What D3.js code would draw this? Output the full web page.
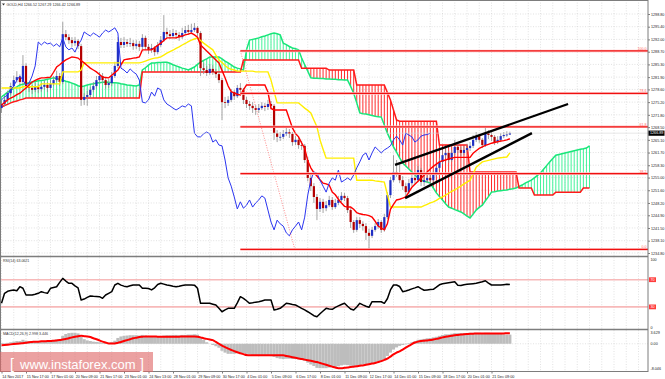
<!DOCTYPE html>
<html>
<head>
<meta charset="utf-8">
<title>GOLD,H4</title>
<script src="https://cdn.jsdelivr.net/npm/d3@7"></script>
<style>
  body { margin: 0; background: #fff; }
  svg  { display: block; font-family: "Liberation Sans", Arial, sans-serif; }
</style>
</head>
<body>
<svg id="chart" width="665" height="379"></svg>
<script>
// ════════════════════════════════════════════════════════════════════════════
// DATA  (GOLD H4, one entry per bar)
// ════════════════════════════════════════════════════════════════════════════
const opens = [
  1273.6,1274.7,1275.8,1277.6,1279.5,1281.1,1281.9,1280.6,1284.9,1279.5,
  1279.0,1278.5,1279.3,1278.7,1279.3,1279.8,1279.0,1280.1,1281.1,1282.2,
  1280.6,1293.4,1292.6,1291.8,1291.0,1291.6,1290.2,1275.8,1276.6,1277.1,
  1278.5,1279.5,1281.1,1282.2,1281.1,1279.8,1280.3,1282.2,1284.9,1291.3,
  1290.5,1291.3,1290.8,1291.0,1290.2,1290.8,1290.0,1292.4,1290.0,1289.2,
  1289.7,1288.6,1290.5,1291.8,1294.0,1293.4,1292.9,1293.7,1293.2,1292.6,
  1293.7,1294.5,1294.0,1294.5,1295.1,1293.7,1284.3,1283.8,1283.0,1284.1,
  1283.3,1282.7,1281.1,1275.2,1275.0,1275.8,1277.9,1276.8,1279.0,1278.5,
  1275.8,1274.7,1274.2,1273.6,1273.1,1273.6,1274.2,1273.9,1274.7,1274.2,
  1266.9,1265.9,1265.9,1266.7,1267.2,1266.7,1264.5,1265.1,1263.7,1263.5,
  1259.7,1254.9,1252.7,1249.8,1246.6,1248.5,1246.8,1247.6,1249.0,1247.1,
  1248.2,1249.0,1250.1,1249.5,1246.3,1243.1,1241.0,1243.6,1242.6,1242.0,
  1240.2,1239.4,1241.0,1242.0,1243.1,1241.0,1244.4,1250.3,1254.3,1256.5,
  1256.2,1254.3,1252.7,1251.1,1253.5,1254.9,1254.3,1257.0,1253.8,1254.3,
  1254.9,1254.3,1255.7,1257.6,1259.2,1261.0,1261.6,1259.7,1261.6,1263.2,
  1262.4,1261.6,1262.4,1262.9,1263.5,1265.1,1266.1,1265.1,1263.7,1266.9,
  1266.4,1265.9,1264.5,1265.1,1266.1,1266.4,1266.52
];
const highs = [
  1275.6,1276.6,1278.3,1280.4,1282.3,1283.5,1282.6,1287.8,1285.6,1280.6,
  1279.8,1280.3,1280.0,1280.4,1281.0,1280.6,1281.1,1282.2,1283.6,1283.0,
  1296.7,1294.5,1293.4,1292.6,1292.6,1292.1,1290.8,1277.6,1278.2,1279.3,
  1280.6,1282.2,1283.3,1283.0,1281.9,1281.4,1283.3,1286.0,1292.6,1292.4,
  1292.6,1292.1,1292.4,1291.8,1291.8,1291.6,1293.4,1293.0,1290.8,1290.8,
  1290.2,1291.3,1292.9,1298.5,1295.1,1294.5,1294.8,1294.5,1294.0,1295.1,
  1295.6,1295.9,1296.2,1296.4,1295.6,1294.2,1285.6,1284.9,1285.4,1285.1,
  1284.1,1283.3,1281.7,1276.6,1276.8,1278.7,1278.5,1279.8,1280.3,1279.0,
  1276.6,1275.5,1275.2,1274.4,1274.7,1275.2,1275.0,1275.8,1275.5,1274.7,
  1267.7,1267.2,1267.7,1268.3,1268.0,1267.2,1266.1,1265.9,1264.8,1264.0,
  1260.5,1255.7,1253.5,1250.6,1249.5,1249.3,1248.7,1250.1,1249.8,1249.3,
  1250.1,1251.1,1250.9,1250.1,1246.8,1243.6,1244.4,1244.4,1243.3,1242.8,
  1241.3,1241.8,1242.8,1243.9,1243.6,1245.3,1251.1,1255.2,1261.0,1259.7,
  1258.9,1255.4,1253.5,1254.6,1256.0,1255.7,1258.1,1257.6,1255.4,1256.0,
  1255.7,1256.8,1258.6,1260.2,1262.4,1262.7,1262.1,1262.4,1265.1,1264.0,
  1263.2,1263.5,1264.0,1264.5,1266.4,1267.2,1266.7,1265.6,1268.3,1267.7,
  1267.2,1266.4,1266.1,1266.9,1267.2,1267.4,1267.29
];
const lows = [
  1272.3,1274.0,1275.2,1277.0,1278.8,1280.4,1279.8,1280.0,1278.8,1277.9,
  1277.4,1277.9,1277.6,1278.0,1278.5,1277.9,1278.4,1279.5,1280.6,1279.5,
  1280.0,1291.8,1290.8,1290.0,1290.2,1289.4,1274.2,1274.4,1274.2,1276.3,
  1277.9,1278.8,1280.3,1280.3,1278.8,1279.0,1279.5,1281.7,1284.3,1289.7,
  1289.7,1290.0,1290.0,1289.2,1289.4,1288.9,1289.4,1289.2,1288.1,1288.4,
  1287.6,1288.0,1290.0,1291.3,1292.6,1292.1,1292.4,1292.1,1291.6,1292.1,
  1293.2,1293.2,1293.4,1294.0,1292.9,1282.2,1282.7,1282.2,1282.5,1282.5,
  1281.7,1280.3,1270.4,1273.6,1274.2,1275.2,1275.8,1276.3,1277.6,1274.7,
  1273.6,1273.1,1272.3,1271.8,1272.3,1273.1,1272.8,1273.1,1273.3,1265.1,
  1264.5,1264.8,1265.3,1266.1,1265.6,1263.5,1263.7,1262.7,1262.4,1258.9,
  1254.0,1251.4,1248.2,1243.6,1245.8,1245.5,1246.0,1247.1,1246.3,1246.6,
  1247.6,1248.5,1248.7,1245.5,1241.5,1240.2,1240.5,1241.5,1240.8,1238.3,
  1235.9,1238.8,1240.5,1241.3,1240.2,1240.5,1243.9,1249.5,1253.8,1255.2,
  1253.5,1251.7,1249.5,1250.6,1252.7,1253.3,1253.8,1252.7,1252.7,1253.5,
  1253.3,1253.8,1255.2,1257.0,1258.6,1260.2,1258.9,1259.2,1261.0,1261.6,
  1260.8,1261.0,1261.8,1262.1,1262.9,1264.5,1264.3,1262.9,1263.2,1265.3,
  1264.8,1263.7,1264.0,1264.5,1265.6,1265.9,1266.42
];
const closes = [
  1274.7,1275.8,1277.6,1279.5,1281.1,1281.9,1280.6,1284.9,1279.5,1279.0,
  1278.5,1279.3,1278.7,1279.3,1279.8,1279.0,1280.1,1281.1,1282.2,1280.6,
  1293.4,1292.6,1291.8,1291.0,1291.6,1290.2,1275.8,1276.6,1277.1,1278.5,
  1279.5,1281.1,1282.2,1281.1,1279.8,1280.3,1282.2,1284.9,1291.3,1290.5,
  1291.3,1290.8,1291.0,1290.2,1290.8,1290.0,1292.4,1290.0,1289.2,1289.7,
  1288.6,1290.5,1291.8,1294.0,1293.4,1292.9,1293.7,1293.2,1292.6,1293.7,
  1294.5,1294.0,1294.5,1295.1,1293.7,1284.3,1283.8,1283.0,1284.1,1283.3,
  1282.7,1281.1,1275.2,1275.0,1275.8,1277.9,1276.8,1279.0,1278.5,1275.8,
  1274.7,1274.2,1273.6,1273.1,1273.6,1274.2,1273.9,1274.7,1274.2,1266.9,
  1265.9,1265.9,1266.7,1267.2,1266.7,1264.5,1265.1,1263.7,1263.5,1259.7,
  1254.9,1252.7,1249.8,1246.6,1248.5,1246.8,1247.6,1249.0,1247.1,1248.2,
  1249.0,1250.1,1249.5,1246.3,1243.1,1241.0,1243.6,1242.6,1242.0,1240.2,
  1239.4,1241.0,1242.0,1243.1,1241.0,1244.4,1250.3,1254.3,1256.5,1256.2,
  1254.3,1252.7,1251.1,1253.5,1254.9,1254.3,1257.0,1253.8,1254.3,1254.9,
  1254.3,1255.7,1257.6,1259.2,1261.0,1261.6,1259.7,1261.6,1263.2,1262.4,
  1261.6,1262.4,1262.9,1263.5,1265.1,1266.1,1265.1,1263.7,1266.9,1266.4,
  1265.9,1264.5,1265.1,1266.1,1266.4,1266.52,1266.89
];

// Ichimoku: tenkan (red), kijun (yellow)
const tenkan = [
  1274.4,1275.1,1275.8,1276.3,1276.7,1277.2,1277.6,1278.3,1279.0,1279.8,
  1280.6,1281.0,1281.4,1281.7,1281.7,1281.8,1281.9,1283.2,1284.6,1285.2,
  1285.9,1286.5,1286.9,1287.3,1287.2,1287.0,1286.3,1285.7,1285.0,1284.3,
  1283.8,1283.3,1282.6,1281.9,1281.8,1281.7,1282.4,1283.1,1283.8,1285.2,
  1286.5,1286.7,1286.8,1287.0,1287.1,1287.3,1289.2,1289.2,1289.2,1289.2,
  1289.8,1290.4,1291.0,1291.7,1292.4,1292.4,1292.4,1292.4,1292.7,1292.9,
  1293.2,1293.4,1293.7,1293.2,1292.6,1290.5,1289.7,1288.9,1288.1,1287.3,
  1286.5,1285.7,1283.7,1281.7,1279.5,1278.0,1277.7,1277.3,1277.1,1278.5,
  1279.8,1279.8,1279.8,1279.8,1279.8,1279.8,1279.8,1277.9,1273.5,1273.1,
  1273.1,1273.1,1273.1,1273.1,1270.7,1268.3,1266.8,1265.9,1264.3,1262.8,
  1259.5,1257.6,1256.3,1255.4,1254.4,1253.5,1253.3,1253.0,1251.1,1250.4,
  1249.2,1248.2,1247.3,1247.1,1247.1,1246.5,1245.6,1245.3,1245.1,1245.0,
  1244.8,1244.4,1243.3,1242.0,1241.5,1241.0,1242.6,1246.5,1247.8,1249.0,
  1249.2,1249.5,1249.8,1251.1,1252.4,1253.2,1254.0,1254.8,1255.6,1256.5,
  1257.3,1258.0,1258.6,1259.2,1259.5,1259.7,1260.0,1260.2,1260.4,1260.4,
  1260.4,1260.4,1260.4,1260.4,1261.5,1262.2,1262.8,1263.2,1263.6,1263.9,
  1264.2,1264.4,1264.6,1264.8,1264.9,1265.1,1265.4
];
const kijun = [
  1279.0,1279.0,1279.0,1279.0,1279.0,1279.0,1279.0,1279.3,1279.3,1279.3,
  1279.3,1279.3,1279.3,1280.1,1280.1,1280.1,1280.1,1280.1,1280.1,1280.1,
  1283.3,1283.3,1283.3,1283.3,1283.3,1283.3,1283.8,1285.7,1285.7,1285.7,
  1285.7,1285.7,1285.7,1285.7,1285.7,1285.7,1285.7,1285.7,1285.7,1285.7,
  1285.7,1285.7,1285.7,1285.7,1285.7,1285.7,1285.9,1286.2,1286.5,1286.8,
  1287.0,1287.1,1287.3,1287.8,1288.3,1288.7,1289.1,1289.6,1290.0,1290.5,
  1290.9,1291.4,1291.8,1292.1,1292.4,1291.7,1291.0,1290.4,1289.8,1289.2,
  1287.8,1286.5,1285.8,1285.0,1284.3,1284.0,1283.8,1283.5,1283.5,1283.5,
  1283.5,1283.5,1283.5,1283.3,1283.3,1283.3,1283.3,1283.3,1281.1,1278.0,
  1275.0,1275.0,1275.0,1275.0,1275.0,1275.0,1275.0,1275.0,1274.3,1273.6,
  1273.0,1272.3,1270.4,1268.6,1265.1,1262.6,1260.2,1260.2,1260.2,1260.2,
  1260.2,1260.2,1260.2,1260.2,1260.2,1260.2,1254.3,1254.3,1254.3,1254.3,
  1254.3,1254.3,1254.1,1254.0,1253.9,1253.8,1250.5,1247.1,1247.1,1247.1,
  1247.1,1247.1,1247.1,1247.1,1247.1,1247.1,1247.1,1247.1,1247.5,1247.8,
  1248.2,1248.5,1248.9,1249.4,1249.8,1250.3,1250.8,1251.3,1251.7,1252.2,
  1252.7,1253.3,1253.8,1254.3,1256.0,1257.8,1258.5,1259.2,1259.4,1259.6,
  1259.8,1260.0,1260.2,1260.3,1260.4,1260.5,1261.6
];
// Senkou spans, already shifted 26 bars ahead (193 bars)
const spanA = [
  1276.6,1277.2,1277.9,1278.4,1278.9,1279.3,1279.8,1280.0,1280.2,1280.4,
  1280.6,1280.7,1280.9,1281.0,1281.1,1281.3,1281.5,1281.7,1281.5,1281.3,
  1281.1,1280.8,1280.6,1280.3,1280.0,1279.6,1279.3,1279.5,1279.8,1280.0,
  1280.1,1280.3,1280.4,1280.5,1280.6,1280.5,1280.4,1280.4,1280.3,1280.1,
  1280.0,1279.8,1279.7,1279.6,1279.5,1279.8,1283.8,1284.4,1285.1,1285.7,
  1285.7,1285.8,1285.8,1285.9,1285.9,1285.6,1285.2,1284.9,1284.6,1284.3,
  1284.1,1283.8,1284.2,1284.6,1285.3,1285.9,1286.4,1286.8,1287.3,1287.3,
  1287.3,1287.3,1286.8,1286.2,1285.7,1285.2,1284.6,1284.3,1284.1,1283.8,
  1289.2,1291.8,1292.0,1292.2,1292.4,1292.7,1292.9,1293.2,1293.5,1293.7,
  1293.5,1293.2,1291.0,1290.6,1290.1,1289.7,1289.5,1289.2,1287.0,1285.2,
  1283.5,1281.7,1281.6,1281.6,1281.5,1281.5,1281.4,1281.4,1281.3,1281.3,
  1281.2,1281.2,1281.1,1281.1,1279.4,1277.6,1275.0,1272.3,1272.1,1272.0,
  1271.8,1271.6,1271.4,1271.3,1271.2,1269.1,1266.9,1265.1,1263.2,1261.8,
  1260.3,1258.9,1258.1,1257.3,1256.5,1255.7,1254.9,1254.3,1254.0,1253.8,
  1253.5,1252.2,1250.9,1249.9,1249.0,1248.0,1247.1,1246.8,1246.4,1246.1,
  1245.8,1245.3,1244.7,1244.2,1245.2,1246.3,1247.0,1247.6,1248.8,1249.9,
  1251.1,1251.2,1251.4,1251.5,1251.6,1251.7,1251.9,1252.0,1252.2,1252.6,
  1253.0,1253.5,1253.9,1254.3,1254.9,1255.6,1256.2,1257.2,1258.2,1259.2,
  1260.1,1261.0,1261.2,1261.4,1261.6,1261.8,1262.0,1262.2,1262.4,1262.6,
  1262.7,1262.9,1263.5
];
const spanB = [
  1273.9,1274.3,1274.6,1275.0,1275.3,1275.5,1275.8,1276.0,1276.3,1276.3,
  1276.3,1276.3,1276.3,1276.3,1276.3,1276.3,1276.3,1276.3,1276.3,1276.3,
  1276.3,1276.3,1276.3,1276.3,1276.3,1276.3,1276.3,1276.3,1276.3,1276.3,
  1276.3,1276.3,1276.3,1276.3,1276.3,1276.3,1276.3,1276.3,1276.3,1276.3,
  1276.3,1276.3,1276.3,1276.3,1276.3,1276.3,1283.3,1283.3,1283.3,1283.3,
  1283.3,1283.3,1283.3,1283.3,1283.3,1283.3,1283.3,1283.3,1283.3,1283.3,
  1283.3,1283.3,1283.3,1283.3,1283.3,1283.3,1283.3,1283.3,1283.3,1283.3,
  1283.3,1283.3,1283.3,1283.3,1283.3,1283.3,1283.3,1283.3,1283.3,1286.5,
  1286.5,1286.5,1286.5,1286.5,1286.5,1286.5,1286.5,1286.5,1286.5,1286.5,
  1286.5,1286.5,1286.5,1286.5,1286.5,1286.5,1286.5,1286.5,1284.3,1284.3,
  1284.3,1284.3,1284.3,1284.3,1284.3,1284.3,1284.3,1283.8,1283.8,1283.8,
  1283.8,1283.8,1283.8,1283.8,1283.8,1283.8,1279.8,1279.8,1279.8,1279.8,
  1279.8,1279.8,1279.8,1279.8,1279.8,1279.8,1277.8,1275.8,1273.1,1270.4,
  1270.1,1270.1,1270.1,1270.1,1270.1,1270.1,1270.1,1270.1,1270.1,1270.1,
  1270.1,1270.1,1270.1,1263.7,1263.7,1263.7,1263.7,1263.7,1263.7,1263.7,
  1263.7,1263.7,1263.7,1256.5,1256.5,1256.5,1256.5,1256.5,1256.5,1256.5,
  1256.5,1256.5,1256.5,1256.5,1256.5,1256.5,1256.5,1256.5,1256.5,1252.2,
  1252.2,1252.2,1252.2,1252.2,1250.3,1250.3,1250.3,1250.3,1250.3,1250.3,
  1250.3,1251.1,1251.1,1251.1,1251.1,1251.1,1251.1,1251.1,1251.1,1251.1,
  1252.2,1252.2,1252.2
];
const chikouShift = 26;

const rsi = [
  35.3,50,53,54,54.9,53.8,59.7,57.4,47.5,47.5,
  47.5,48.5,50,52.4,51,50,57.4,58.5,59.7,66,
  72,68,64.7,64.7,61,58,40.1,41.5,44,46,
  45.5,45.3,45,42.6,47.5,50,52.4,62.2,64.7,62,
  60.5,59.7,61,62.2,62.2,62.2,57.4,57.4,57,55,
  58,63,64.7,63.5,62.2,61.5,60.5,59.7,60.5,61.5,
  62.2,62.2,62.2,62,57.4,35.3,35.3,35.3,35.3,34,
  32.8,28,22.9,25.5,27.9,27.9,27.9,36,45,42.6,
  39,35.3,36,37,37.6,38.8,40.1,40.1,40.1,25.4,
  26.5,27.9,31.5,35.3,34.5,33.5,32.8,30.5,27.9,25.5,
  22.9,20,17,15.6,20,24,27.9,27,26.5,29.4,
  31.5,33.5,35.3,31,27,25.4,30,35.3,33,31,
  29.4,37.6,37.6,37.6,37.6,35.3,42,55,62.2,62.2,
  60,52.4,53.5,54.9,56.5,58,59.7,57,54.5,55,
  55.5,55.9,59,62.5,64,64.7,65.5,66.3,67.1,62,
  61.5,62.5,63.2,63.7,64.2,64.7,65.8,67,68.5,65,
  62.2,62.2,62.2,62.2,62.7,63.2,63.06
];
const rsiLevels = [70, 30];

const macdMain = [
  0.3,0.2,0.3,0.5,0.7,0.9,0.9,1.3,1.0,0.8,
  0.7,0.7,0.6,0.6,0.7,0.7,0.9,1.1,1.4,1.3,
  2.6,3.2,3.5,3.6,3.6,3.4,2.2,1.5,1.1,0.9,
  0.7,0.6,0.5,0.3,0.2,0.3,0.5,1.0,1.9,2.4,
  2.6,2.7,2.8,2.8,2.8,2.7,2.9,2.7,2.5,2.4,
  2.2,2.3,2.5,2.7,2.8,2.8,2.9,2.9,2.8,2.9,
  2.9,3.0,3.0,3.1,3.0,2.2,1.3,0.5,0.0,-0.4,
  -0.8,-1.3,-2.3,-2.9,-3.3,-3.3,-3.3,-3.1,-3.0,-3.1,
  -3.3,-3.5,-3.7,-3.8,-3.9,-3.9,-3.9,-3.8,-3.7,-4.3,
  -4.7,-4.9,-5.0,-4.9,-4.9,-5.0,-5.0,-5.1,-5.2,-5.6,
  -6.2,-6.8,-7.3,-7.9,-8.0,-8.0,-8.0,-7.8,-7.7,-7.6,
  -7.4,-7.1,-6.9,-7.0,-7.2,-7.4,-7.2,-7.0,-6.8,-6.8,
  -6.8,-6.5,-6.2,-5.8,-5.6,-5.0,-4.0,-2.9,-1.9,-1.2,
  -0.7,-0.4,-0.2,0.2,0.5,0.8,1.3,1.4,1.6,1.8,
  1.9,2.1,2.3,2.6,2.9,3.1,3.1,3.3,3.5,3.5,
  3.5,3.5,3.5,3.6,3.6,3.6,3.6,3.5,3.6,3.6,
  3.5,3.4,3.3,3.2,3.1,3.0,2.998
];
const macdSignal = [
  -0.5,-0.4,-0.3,-0.2,-0.1,0.0,0.1,0.2,0.3,0.5,
  0.6,0.7,0.7,0.8,0.8,0.9,0.9,1.0,1.1,1.2,
  1.4,1.6,1.8,2.1,2.3,2.5,2.6,2.5,2.4,2.2,
  1.8,1.5,1.1,0.7,0.4,0.1,0.1,0.1,0.3,0.6,
  0.9,1.2,1.5,1.8,2.0,2.2,2.3,2.4,2.4,2.4,
  2.4,2.3,2.3,2.3,2.3,2.3,2.3,2.3,2.3,2.4,
  2.4,2.4,2.4,2.4,2.3,2.1,1.8,1.6,1.4,1.2,
  0.6,0.0,-0.6,-1.1,-1.6,-2.0,-2.4,-2.8,-3.1,-3.4,
  -3.7,-3.8,-3.8,-3.8,-3.8,-3.8,-3.8,-3.8,-3.8,-3.8,
  -3.8,-3.8,-3.8,-4.0,-4.2,-4.4,-4.6,-4.8,-5.0,-5.2,
  -5.4,-5.6,-5.8,-6.0,-6.3,-6.6,-6.9,-7.2,-7.5,-7.8,
  -8.0,-8.0,-7.9,-7.8,-7.6,-7.5,-7.4,-7.2,-7.1,-6.9,
  -6.7,-6.5,-6.3,-6.0,-5.7,-5.3,-4.9,-4.2,-3.5,-2.9,
  -2.5,-1.9,-1.3,-0.7,-0.1,0.4,0.7,0.9,1.0,1.1,
  1.2,1.4,1.6,1.8,2.1,2.3,2.5,2.6,2.8,2.9,
  3.0,3.1,3.2,3.3,3.3,3.4,3.4,3.4,3.4,3.4,
  3.4,3.4,3.4,3.4,3.4,3.45,3.446
];

// drawn objects: [bar, price]
const fibAnchors  = [[78, 1288.9], [95.8, 1235.75]];
const fibLevels   = [0, 38.2, 61.8, 78.6, 100];
const upperTrend  = [[128.5, 1258.4], [185, 1274.7]];
const lowerTrend  = [[131.8, 1249.5], [173.2, 1266.9]];

// axes
const priceTicks = [1298.8,1295.4,1292.0,1288.7,1285.3,1281.9,1278.6,1275.2,1271.8,1268.5,
                    1265.1,1261.7,1258.3,1255.0,1251.6,1248.2,1244.9,1241.5,1238.1,1234.8];
const timeLabels = ['14 Nov 2017','15 Nov 17:00','17 Nov 01:00','20 Nov 09:00','21 Nov 17:00',
  '23 Nov 01:00','24 Nov 13:00','28 Nov 01:00','29 Nov 09:00','30 Nov 17:00','4 Dec 01:00',
  '5 Dec 09:00','6 Dec 17:00','8 Dec 01:00','11 Dec 09:00','12 Dec 17:00','14 Dec 01:00',
  '15 Dec 09:00','18 Dec 17:00','20 Dec 01:00','21 Dec 09:00'];
const macdTicks = [3.629, 0, -8.046];

// ════════════════════════════════════════════════════════════════════════════
// LAYOUT / SCALES
// ════════════════════════════════════════════════════════════════════════════
const PR = 648;                         // plot right edge (price axis)
const MAIN_B = 256.5, RSI_B = 329.5, BOT = 371.5;
const svg = d3.select('#chart');

const x    = d3.scaleLinear().domain([0, 211]).range([1.5, 1.5 + 211 * 3.0625]);
const y    = d3.scaleLinear().domain([1234.8, 1298.8]).range([253, 14]);
const yR   = d3.scaleLinear().domain([0, 100]).range([327.3, 259.3]);
const yM   = d3.scaleLinear().domain([-8.046, 3.629]).range([368.3, 332.7]);

const defs = svg.append('defs');
defs.append('clipPath').attr('id', 'clipMain').append('rect')
  .attr('x', 0).attr('y', 0).attr('width', PR).attr('height', MAIN_B);
defs.append('clipPath').attr('id', 'clipSub').append('rect')
  .attr('x', 0).attr('y', MAIN_B).attr('width', PR).attr('height', BOT - MAIN_B);

const gridC = '#cfcfcf';

// vertical grid (every 4 bars) across all panes
svg.append('g').selectAll('line').data(d3.range(0, 212, 4)).join('line')
  .attr('x1', d => x(d)).attr('x2', d => x(d))
  .attr('y1', 0).attr('y2', BOT)
  .attr('stroke', gridC).attr('stroke-width', 0.6).attr('stroke-dasharray', '1,1.6');

// horizontal grid in main pane
svg.append('g').selectAll('line').data(priceTicks).join('line')
  .attr('x1', 0).attr('x2', PR).attr('y1', d => y(d)).attr('y2', d => y(d))
  .attr('stroke', gridC).attr('stroke-width', 0.6).attr('stroke-dasharray', '1,1.6');

// ════════════════════════════════════════════════════════════════════════════
// MAIN PANE
// ════════════════════════════════════════════════════════════════════════════
const main = svg.append('g').attr('clip-path', 'url(#clipMain)');

// kumo hatch
main.append('g').selectAll('line').data(spanA).join('line')
  .attr('x1', (d, i) => x(i)).attr('x2', (d, i) => x(i))
  .attr('y1', d => y(d)).attr('y2', (d, i) => y(spanB[i]))
  .attr('stroke', (d, i) => d >= spanB[i] ? '#45f29a' : '#ff2b2b')
  .attr('stroke-width', 1);

const lineI = (sc) => d3.line().x((d, i) => x(i)).y(d => sc(d));
main.append('path').datum(spanA).attr('d', lineI(y))
  .attr('fill', 'none').attr('stroke', '#19e67a').attr('stroke-width', 1.5);
main.append('path').datum(spanB).attr('d', lineI(y))
  .attr('fill', 'none').attr('stroke', '#ff1a1a').attr('stroke-width', 1.5);

// candles
const bars = closes.map((c, i) => ({ i, o: opens[i], h: highs[i], l: lows[i], c }));
main.append('g').selectAll('line').data(bars).join('line')
  .attr('x1', d => x(d.i)).attr('x2', d => x(d.i))
  .attr('y1', d => y(d.h)).attr('y2', d => y(d.l))
  .attr('stroke', '#8d8d8d').attr('stroke-width', 0.8);
main.append('g').selectAll('rect').data(bars).join('rect')
  .attr('x', d => x(d.i) - 1.1).attr('width', 2.2)
  .attr('y', d => y(Math.max(d.o, d.c)))
  .attr('height', d => Math.max(0.8, Math.abs(y(d.o) - y(d.c))))
  .attr('fill', d => d.c >= d.o ? '#1f2fc4' : '#b30000');

// kijun / tenkan / chikou
main.append('path').datum(kijun).attr('d', lineI(y))
  .attr('fill', 'none').attr('stroke', '#ffee00').attr('stroke-width', 1.4);
main.append('path').datum(tenkan).attr('d', lineI(y))
  .attr('fill', 'none').attr('stroke', '#ff0000').attr('stroke-width', 1.4);
main.append('path').datum(closes.slice(chikouShift)).attr('d', lineI(y))
  .attr('fill', 'none').attr('stroke', '#2b35f0').attr('stroke-width', 1);

// current price line
main.append('line').attr('x1', 0).attr('x2', PR)
  .attr('y1', y(closes[closes.length - 1])).attr('y2', y(closes[closes.length - 1]))
  .attr('stroke', '#d6d6d6').attr('stroke-width', 0.6);

// fibonacci retracement
const fHi = fibAnchors[0][1], fLo = fibAnchors[1][1];
const fibG = main.append('g');
fibG.append('line')
  .attr('x1', x(fibAnchors[0][0])).attr('y1', y(fHi))
  .attr('x2', x(fibAnchors[1][0])).attr('y2', y(fLo))
  .attr('stroke', '#ff5a5a').attr('stroke-width', 0.7).attr('stroke-dasharray', '1,1.5');
fibLevels.forEach(lv => {
  const py = y(fLo + (fHi - fLo) * lv / 100);
  fibG.append('line').attr('x1', x(fibAnchors[0][0])).attr('x2', PR)
    .attr('y1', py).attr('y2', py)
    .attr('stroke', '#ffc4c4').attr('stroke-width', 2.6);
  fibG.append('line').attr('x1', x(fibAnchors[0][0])).attr('x2', PR)
    .attr('y1', py).attr('y2', py)
    .attr('stroke', '#f01010').attr('stroke-width', 1.2);
  fibG.append('text').attr('x', PR - 1.5).attr('y', py - 1)
    .attr('text-anchor', 'end').attr('font-size', '3.6px').attr('fill', '#ff6b6b')
    .text(lv.toFixed(1));
});

// channel trendlines
const tl = d3.line().x(d => x(d[0])).y(d => y(d[1]));
[upperTrend, lowerTrend].forEach(t => {
  main.append('path').datum(t).attr('d', tl)
    .attr('stroke', '#000').attr('stroke-width', 2.3).attr('fill', 'none');
});

// header
svg.append('path').attr('d', 'M2,3.4 L5,3.4 L3.5,5.6 Z').attr('fill', '#333');
svg.append('text').attr('x', 6.5).attr('y', 6.3).attr('font-size', '3.7px').attr('fill', '#333')
  .text('GOLD,H4  1266.52 1267.29 1266.42 1266.89');

// ════════════════════════════════════════════════════════════════════════════
// RSI PANE
// ════════════════════════════════════════════════════════════════════════════
const sub = svg.append('g').attr('clip-path', 'url(#clipSub)');
rsiLevels.forEach(lv => {
  sub.append('line').attr('x1', 0).attr('x2', PR).attr('y1', yR(lv)).attr('y2', yR(lv))
    .attr('stroke', '#f7b9b9').attr('stroke-width', 1.6);
});
sub.append('path').datum(rsi).attr('d', lineI(yR))
  .attr('fill', 'none').attr('stroke', '#000').attr('stroke-width', 1.5)
  .attr('stroke-linejoin', 'round');
svg.append('text').attr('x', 3).attr('y', 262).attr('font-size', '3.6px').attr('fill', '#333')
  .text('RSI(14) 63.0621');

// ════════════════════════════════════════════════════════════════════════════
// MACD PANE
// ════════════════════════════════════════════════════════════════════════════
sub.append('line').attr('x1', 0).attr('x2', PR).attr('y1', yM(0)).attr('y2', yM(0))
  .attr('stroke', gridC).attr('stroke-width', 0.6).attr('stroke-dasharray', '1,1.6');
sub.append('g').selectAll('rect').data(macdMain).join('rect')
  .attr('x', (d, i) => x(i) - 1.55).attr('width', 3.1)
  .attr('y', d => Math.min(yM(d), yM(0)))
  .attr('height', d => Math.abs(yM(d) - yM(0)))
  .attr('fill', '#bdbdbd');
sub.append('path').datum(macdSignal).attr('d', lineI(yM).curve(d3.curveMonotoneX))
  .attr('fill', 'none').attr('stroke', '#ff0000').attr('stroke-width', 2);
svg.append('text').attr('x', 3).attr('y', 334.6).attr('font-size', '3.6px').attr('fill', '#333')
  .text('MACD(12,26,9) 2.998 3.446');

// ════════════════════════════════════════════════════════════════════════════
// FRAMES & AXES
// ════════════════════════════════════════════════════════════════════════════
const frame = svg.append('g').attr('stroke', '#7d7d7d').attr('fill', 'none');
frame.append('rect').attr('x', 0.5).attr('y', 0.5).attr('width', PR - 0.5).attr('height', BOT - 0.5)
  .attr('stroke-width', 1);
[MAIN_B, RSI_B].forEach(b => frame.append('line').attr('x1', 0).attr('x2', PR)
  .attr('y1', b).attr('y2', b).attr('stroke-width', 1.6));

const axFont = g => g.call(s => s.select('.domain').remove())
  .call(s => s.selectAll('text').attr('font-size', '3.7px').attr('fill', '#222')
    .attr('font-family', '"Liberation Sans", Arial, sans-serif'))
  .call(s => s.selectAll('line').attr('stroke', '#7d7d7d'));

svg.append('g').attr('transform', `translate(${PR},0)`)
  .call(d3.axisRight(y).tickValues(priceTicks).tickFormat(d3.format('.2f')).tickSize(2).tickPadding(1))
  .call(axFont);

svg.append('g').attr('transform', `translate(0,${BOT})`)
  .call(d3.axisBottom(x).tickValues(d3.range(0, 161, 8))
    .tickFormat((d, i) => timeLabels[i]).tickSize(2).tickPadding(1.5))
  .call(axFont)
  .call(s => s.selectAll('text').attr('text-anchor', 'start').attr('dx', '0.3'));

// current price tag
const last = closes[closes.length - 1];
svg.append('rect').attr('x', PR + 0.5).attr('y', y(last) - 2.6).attr('width', 16).attr('height', 5.2)
  .attr('fill', '#000');
svg.append('text').attr('x', PR + 2).attr('y', y(last) + 1.3).attr('font-size', '3.7px')
  .attr('fill', '#fff').text(d3.format('.2f')(last));

// RSI axis labels
[[100, false], [70, true], [30, true], [0, false]].forEach(([v, box]) => {
  if (box) svg.append('rect').attr('x', PR + 1).attr('y', yR(v) - 2.4).attr('width', 7).attr('height', 4.8)
    .attr('fill', '#ff3c3c');
  svg.append('text').attr('x', PR + 2.5).attr('y', yR(v) + 1.3).attr('font-size', '3.7px')
    .attr('fill', box ? '#fff' : '#222').text(v);
});
// MACD axis labels
macdTicks.forEach(v => {
  svg.append('text').attr('x', PR + 2.5).attr('y', yM(v) + 1.3).attr('font-size', '3.7px')
    .attr('fill', '#222').text(v === 0 ? '0.00' : v.toFixed(3));
});

// ════════════════════════════════════════════════════════════════════════════
// WATERMARK
// ════════════════════════════════════════════════════════════════════════════
svg.append('rect').attr('x', 0).attr('y', 352).attr('width', 153).attr('height', 20)
  .attr('fill', '#df6767').attr('opacity', 0.62);
svg.append('text').attr('x', 10).attr('y', 368.5).attr('font-size', '14px')
  .attr('fill', '#fff').attr('font-weight', 300).text('[');
svg.append('text').attr('x', 20).attr('y', 368.5).attr('font-size', '13px')
  .attr('fill', '#fff').text('www.instaforex.com');
svg.append('text').attr('x', 140).attr('y', 368.5).attr('font-size', '14px')
  .attr('fill', '#fff').text(']');
</script>
</body>
</html>
